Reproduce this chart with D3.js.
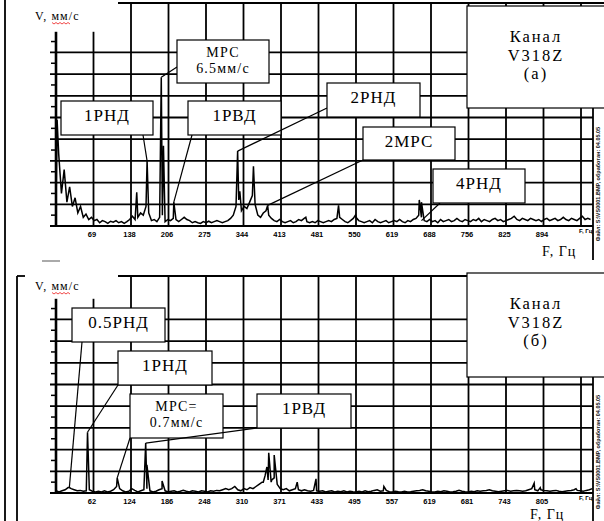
<!DOCTYPE html>
<html>
<head>
<meta charset="utf-8">
<script src="https://cdn.jsdelivr.net/npm/d3@7"></script>
<style>
body{margin:0;background:#fff}
svg{display:block}
</style>
</head>
<body>
<svg id="chart" width="604" height="521"></svg>
<script>
// spectrum bins are 5 Hz wide
var binHz = 5;

// panel (a): noise floor per bin, mm/s, from 0 Hz
var floorA = [0.8,3.3,1.5,2.6,1.1,1.8,0.9,1.3,0.6,0.9,0.4,0.55,0.3,0.4,0.25,0.3,0.15,0.25,0.2,0.12,
  0.22,0.18,0.25,0.15,0.2,0.12,0.2,0.3,0.45,0.3,0.4,0.6,0.5,0.9,0.6,0.25,0.3,0.2,0.4,0.5,
  0.2,0.3,0.25,0.35,0.3,0.2,0.3,0.4,0.3,0.25,0.15,0.2,0.15,0.12,0.2,0.15,0.22,0.15,0.2,0.25,
  0.2,0.15,0.2,0.25,0.35,0.5,0.9,1.2,0.7,0.9,0.8,1.1,1.4,1.0,0.5,0.4,0.6,0.7,0.5,0.35,
  0.25,0.2,0.3,0.2,0.15,0.2,0.25,0.15,0.2,0.3,0.25,0.35,0.2,0.15,0.2,0.15,0.25,0.2,0.15,0.2,
  0.25,0.2,0.3,0.35,0.4,0.3,0.2,0.15,0.25,0.35,0.4,0.25,0.2,0.15,0.2,0.25,0.15,0.3,0.2,0.15,
  0.2,0.25,0.15,0.2,0.25,0.2,0.3,0.2,0.15,0.25,0.2,0.3,0.35,0.5,0.4,0.25,0.2,0.3,0.2,0.25,
  0.15,0.3,0.2,0.25,0.3,0.2,0.25,0.35,0.25,0.2,0.3,0.25,0.2,0.3,0.25,0.35,0.2,0.3,0.25,0.2,
  0.3,0.35,0.25,0.3,0.2,0.25,0.3,0.35,0.45,0.3,0.25,0.35,0.3,0.25,0.35,0.3,0.25,0.3,0.2,0.3,
  0.35,0.25,0.3,0.35,0.25,0.3,0.4,0.3,0.25,0.35,0.3,0.25,0.35,0.45,0.3,0.35,0.3];
// panel (a): discrete lines [Hz, mm/s]
var peaksA = [[2,4.9],[148,1.55],[167,3.0],[193,6.85],[197,3.7],[216,1.1],[333,3.45],[337,1.6],
  [362,2.75],[388,0.95],[458,0.4],[518,0.95],[549,0.5],[666,1.2],[670,1.1]];
var ticksA = ["69","138","206","275","344","413","481","550","619","688","756","825","894"];

// panel (б)
var floorB = [0.1,0.05,0.1,0.15,0.25,0.2,0.15,0.1,0.12,0.08,0.1,0.15,0.08,0.05,0.08,0.05,0.1,0.05,0.08,0.15,
  0.3,0.2,0.1,0.05,0.08,0.2,0.12,0.05,0.1,0.15,0.2,0.1,0.05,0.08,0.15,0.2,0.1,0.05,0.08,0.1,
  0.05,0.08,0.12,0.08,0.05,0.1,0.08,0.05,0.1,0.08,0.05,0.1,0.08,0.12,0.1,0.15,0.2,0.15,0.2,0.3,
  0.15,0.1,0.2,0.15,0.25,0.2,0.3,0.4,0.5,0.8,0.6,0.5,0.7,0.4,0.2,0.15,0.2,0.1,0.15,0.2,
  0.15,0.1,0.15,0.1,0.08,0.12,0.1,0.08,0.1,0.05,0.08,0.1,0.05,0.08,0.06,0.1,0.05,0.08,0.06,0.05,
  0.08,0.05,0.1,0.06,0.08,0.12,0.15,0.08,0.1,0.12,0.06,0.05,0.08,0.06,0.05,0.08,0.05,0.06,0.08,0.1,
  0.12,0.15,0.1,0.08,0.06,0.05,0.08,0.06,0.1,0.08,0.05,0.06,0.08,0.12,0.08,0.06,0.05,0.08,0.06,0.1,
  0.08,0.1,0.12,0.15,0.1,0.08,0.06,0.08,0.1,0.12,0.08,0.1,0.12,0.1,0.08,0.1,0.15,0.2,0.15,0.1,
  0.15,0.12,0.1,0.08,0.1,0.12,0.08,0.06,0.08,0.1,0.12,0.15,0.12,0.1,0.08,0.12,0.15,0.2];
var peaksB = [[22,0.25],[52,2.8],[101,0.7],[148,2.3],[150,1.3],[175,0.55],[342,0.5],[348,1.2],
  [351,1.85],[356,0.6],[360,1.75],[398,0.5],[429,0.65],[541,0.3],[789,0.45],[799,0.25],[858,0.2]];
var ticksB = ["62","124","186","248","310","371","433","495","557","619","681","743","805"];

// annotation texts and the line each one points at [Hz, mm/s]
var labelsA = [["1РНД"],["МРС","6.5мм/с"],["1РВД"],["2РНД"],["2МРС"],["4РНД"]];
var targetsA = [[167,3.0],[193,6.85],[216,1.1],[333,3.45],[388,0.95],[670,0.25]];
var labelsB = [["0.5РНД"],["1РНД"],["МРС=","0.7мм/с"],["1РВД"]];
var targetsB = [[22,0.25],[52,2.8],[101,0.7],[148,2.3]];

var svg = d3.select("#chart");
var serif = "'Liberation Serif','Times New Roman',serif";
var sans = "'Liberation Sans',Arial,sans-serif";

// outer left frame
svg.append("line").attr("x1",5).attr("x2",5).attr("y1",0).attr("y2",521)
  .attr("stroke","#000").attr("stroke-width",1.8);

function drawPanel(p){
  var g = svg.append("g");
  var x = d3.scaleLinear().domain([0, 537/37.5*p.step]).range([56, 593]);
  var y = d3.scaleLinear().domain([0, 10]).range([p.base, p.base-217]);
  var kk = d3.range(1, 15);

  // horizontal grid
  g.selectAll(".hg").data(d3.range(1, 9)).enter().append("line")
    .attr("x1",50).attr("x2",593)
    .attr("y1",function(d){return y(d);}).attr("y2",function(d){return y(d);})
    .attr("stroke","#000").attr("stroke-width",1.8);
  // vertical grid
  g.selectAll(".vg").data(kk).enter().append("line")
    .attr("x1",function(k){return x(k*p.step);}).attr("x2",function(k){return x(k*p.step);})
    .attr("y1",function(k){return k==1 ? y(8.95) : p.top;}).attr("y2",p.base)
    .attr("stroke","#000").attr("stroke-width",1.8);
  // minor ticks
  g.selectAll(".mt").data(d3.range(0.5, 9, 1)).enter().append("line")
    .attr("x1",51).attr("x2",56)
    .attr("y1",function(d){return y(d);}).attr("y2",function(d){return y(d);})
    .attr("stroke","#000").attr("stroke-width",1.5);
  // top border
  g.append("line").attr("x1",118).attr("x2",604).attr("y1",p.top).attr("y2",p.top)
    .attr("stroke","#000").attr("stroke-width",1.8);
  // y axis and baseline
  g.append("line").attr("x1",56).attr("x2",56).attr("y1",y(8.95)).attr("y2",p.base)
    .attr("stroke","#000").attr("stroke-width",2.6);
  g.append("line").attr("x1",50).attr("x2",593).attr("y1",p.base).attr("y2",p.base)
    .attr("stroke","#000").attr("stroke-width",2.2);

  // spectrum
  var pts = p.floor.map(function(v,i){return [i*binHz, v];}).concat(p.peaks)
    .sort(function(a,b){return a[0]-b[0];});
  g.append("path").datum(pts)
    .attr("d", d3.line().x(function(d){return x(d[0]);}).y(function(d){return y(d[1]);}))
    .attr("fill","none").attr("stroke","#000").attr("stroke-width",1.5);

  // x tick labels
  var ax = g.append("g").attr("transform","translate(-2," + (p.base+6) + ")")
    .call(d3.axisBottom(x).tickValues(d3.range(1,14).map(function(k){return k*p.step;}))
      .tickSize(0).tickPadding(0)
      .tickFormat(function(d,i){return p.ticks[i];}));
  ax.select(".domain").remove();
  ax.selectAll("text").attr("font-family",sans).attr("font-size",7.5).attr("font-weight","bold")
    .attr("fill","#000");
  g.append("text").attr("x",x(14*p.step)-2).attr("y",p.base+p.fLab)
    .attr("font-family",sans).attr("font-size",6).attr("font-weight","bold").text("F, Гц");

  // leaders and boxes
  p.labels.forEach(function(lab, i){
    var b = p.boxes[i], t = p.targets[i];
    g.append("line").attr("x1",b[4]).attr("y1",b[5])
      .attr("x2",x(t[0])).attr("y2",y(t[1]))
      .attr("stroke","#000").attr("stroke-width",1.2);
    g.append("rect").attr("x",b[0]).attr("y",b[1]).attr("width",b[2]).attr("height",b[3])
      .attr("fill","#fff").attr("stroke","#000").attr("stroke-width",1.2);
    var two = lab.length > 1;
    lab.forEach(function(s, j){
      g.append("text").attr("x",b[0]+b[2]/2)
        .attr("y", two ? b[1]+17+j*16 : b[1]+20)
        .attr("text-anchor","middle").attr("font-family",serif)
        .attr("font-size", two ? 14 : 17).attr("letter-spacing", two ? 1.2 : 1)
        .text(s);
    });
  });

  // white cover behind the axis title
  g.append("rect").attr("x",p.coverX).attr("y",p.top-3).attr("width",118-p.coverX).attr("height",y(8.95)-p.top+2)
    .attr("fill","#fff");
  g.append("text").attr("x",35).attr("y",p.top+p.vLab).attr("font-family",serif)
    .attr("font-size",12).attr("letter-spacing",1.1).text("V, мм/с");
  var sq = p.top+p.vLab+2.5;
  g.append("path").attr("d","M52," + sq + " l2,1.5 l2,-1.5 l2,1.5 l2,-1.5 l2,1.5 l2,-1.5 l2,1.5 l2,-1.5 l2,1.5")
    .attr("fill","none").attr("stroke","#e33").attr("stroke-width",0.9);

  // channel box
  g.append("rect").attr("x",467).attr("y",p.chY).attr("width",140).attr("height",p.chH)
    .attr("fill","#fff").attr("stroke","#000").attr("stroke-width",1.2);
  ["Канал","V318Z",p.tag].forEach(function(s, j){
    g.append("text").attr("x",536).attr("y",p.chY+36+j*18.5)
      .attr("text-anchor","middle").attr("font-family",serif).attr("font-size",16.5)
      .attr("letter-spacing",2).text(s);
  });

  // right frame and file stamp
  g.append("line").attr("x1",593).attr("x2",593).attr("y1",p.chY+p.chH).attr("y2",p.base+34)
    .attr("stroke","#000").attr("stroke-width",1.8);
  var my = (p.chY+p.chH+p.base+34)/2;
  g.append("text").attr("transform","translate(600," + my + ") rotate(-90)")
    .attr("text-anchor","middle").attr("font-family",sans).attr("font-size",5.5)
    .attr("font-weight","bold").attr("fill","#111")
    .text("Файл: S:\\VS0001.BMP, обработан: 04.05.05");

  // big axis title
  g.append("text").attr("x",p.fx).attr("y",p.base+p.fy).attr("font-family",serif)
    .attr("font-size",14).attr("letter-spacing",1).text("F, Гц");
}

drawPanel({top:3, base:226, step:68.75, floor:floorA, peaks:peaksA, ticks:ticksA, fLab:7,
  labels:labelsA, targets:targetsA, coverX:6, vLab:17, chY:6, chH:102, tag:"(а)", fx:542, fy:30,
  boxes:[[61,101,92,34,143,135],[177,40,92,43,177,67],[188,101,93,34,192,135],
         [327,83,93,34,327,108],[363,127,92,33,363,160],[433,169,92,34,440,203]]});

drawPanel({top:276, base:493, step:61.875, floor:floorB, peaks:peaksB, ticks:ticksB, fLab:7,
  labels:labelsB, targets:targetsB, coverX:18, vLab:14, chY:273, chH:104, tag:"(б)", fx:530, fy:26,
  boxes:[[72,308,93,34,82,342],[118,351,94,34,118,385],[130,394,93,44,130,438],[257,394,94,34,257,428]]});

// inner frame of the lower panel
svg.append("line").attr("x1",17).attr("x2",17).attr("y1",276).attr("y2",521)
  .attr("stroke","#000").attr("stroke-width",1.8);
svg.append("line").attr("x1",17).attr("x2",25).attr("y1",276).attr("y2",276)
  .attr("stroke","#000").attr("stroke-width",1.8);
svg.append("line").attr("x1",42).attr("x2",60).attr("y1",261).attr("y2",261)
  .attr("stroke","#aaa").attr("stroke-width",2);
</script>
</body>
</html>
